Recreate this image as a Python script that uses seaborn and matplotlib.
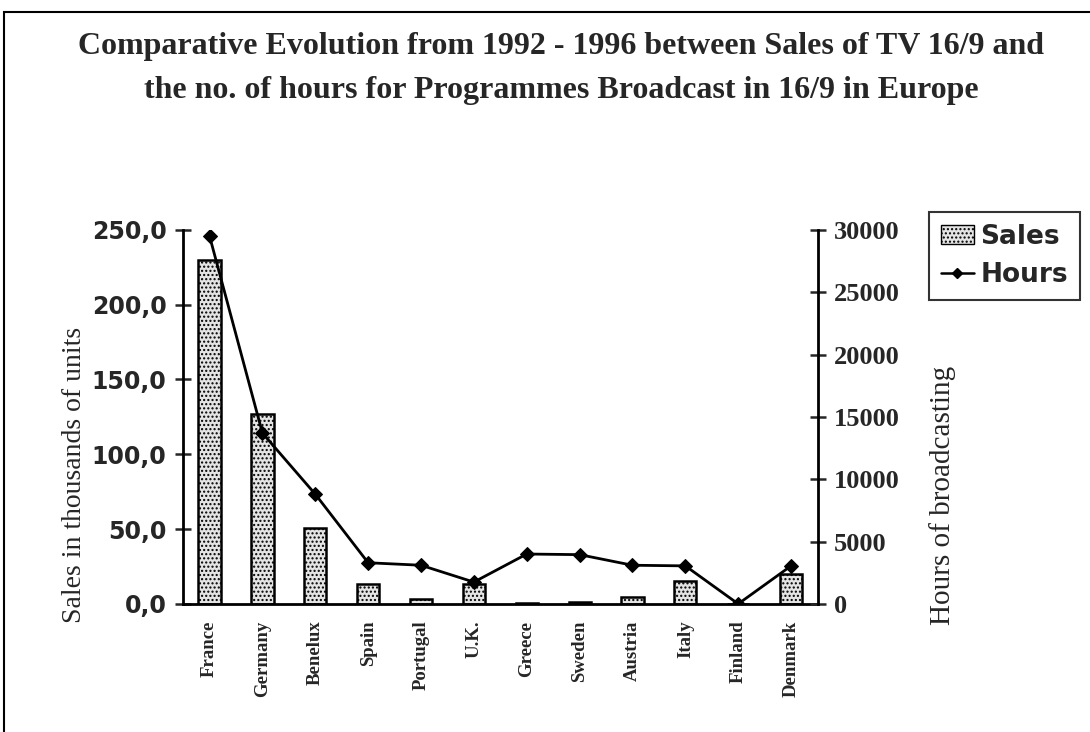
import numpy as np
import pandas as pd
import matplotlib
matplotlib.use("Agg")
import matplotlib.pyplot as plt
import seaborn as sns
from matplotlib.patches import Patch, Rectangle
from matplotlib.lines import Line2D

# Data: sales of 16/9 TV sets (thousands) and broadcast hours per country
countries = ["France", "Germany", "Benelux", "Spain", "Portugal", "U.K.",
             "Greece", "Sweden", "Austria", "Italy", "Finland", "Denmark"]
sales = [230.0, 127.0, 51.0, 13.0, 3.5, 13.0, 0.5, 1.0, 4.5, 15.0, 0.0, 20.0]
hours = [29500, 13700, 8800, 3300, 3100, 1750, 4000, 3950, 3100, 3050, 0, 3050]
sales_ticks = [0, 50, 100, 150, 200, 250]
hours_ticks = [0, 5000, 10000, 15000, 20000, 25000, 30000]

df = pd.DataFrame({"Country": countries, "Sales": sales, "Hours": hours})

sns.set_theme(style="white")
plt.rcParams["font.family"] = ["Liberation Serif", "DejaVu Serif"]

fig = plt.figure(figsize=(10.9, 7.32), dpi=100)
ax = fig.add_axes([0.168, 0.175, 0.582, 0.511])

sns.barplot(data=df, x="Country", y="Sales", ax=ax, width=0.42,
            color="#e4e4e4", edgecolor="black", linewidth=1.8, saturation=1)
for bar in ax.patches:
    bar.set_hatch("....")

ax.set_xlim(-0.5, len(countries) - 0.5)
ax.set_ylim(0, 250)
ax.set_yticks(sales_ticks)
ax.set_yticklabels([f"{v:.1f}".replace(".", ",") for v in sales_ticks],
                   fontfamily="DejaVu Sans", fontweight="bold", fontsize=17)
ax.set_xticks(range(len(countries)))
ax.set_xticklabels(countries, rotation=90, fontsize=13.5, fontweight="bold")
ax.set_xticks(np.arange(-0.5, len(countries)), minor=True)
ax.tick_params(axis="x", which="major", length=0, pad=12)
ax.tick_params(axis="x", which="minor", length=10, width=1.8, direction="inout")
ax.tick_params(axis="y", which="major", length=12, width=1.8, direction="inout", pad=6)
ax.set_xlabel("")
ax.set_ylabel("Sales in thousands of units", fontsize=20)
ax.yaxis.set_label_coords(-0.151, 0.345)

for s in ["top", "right"]:
    ax.spines[s].set_visible(False)
for s in ["left", "bottom"]:
    ax.spines[s].set_linewidth(2)
    ax.spines[s].set_color("black")

ax2 = ax.twinx()
sns.lineplot(x=np.arange(len(countries)), y=df["Hours"], ax=ax2, color="black",
             linewidth=2, marker="D", markersize=7, markeredgecolor="black")
ax2.set_ylim(0, 30000)
ax2.set_yticks(hours_ticks)
ax2.set_yticklabels([str(v) for v in hours_ticks], fontsize=19, fontweight="bold")
ax2.tick_params(axis="y", length=12, width=1.8, direction="inout", pad=6)
ax2.set_ylabel("Hours of broadcasting", fontsize=21)
ax2.yaxis.set_label_coords(1.176, 0.29)
ax2.set_xlim(-0.5, len(countries) - 0.5)
for s in ["top", "left", "bottom"]:
    ax2.spines[s].set_visible(False)
ax2.spines["right"].set_linewidth(2)
ax2.spines["right"].set_color("black")

fig.suptitle("Comparative Evolution from 1992 - 1996 between Sales of TV 16/9 and\n"
             "the no. of hours for Programmes Broadcast in 16/9 in Europe",
             x=0.515, y=1 - 32 / 732, va="top", fontsize=23, fontweight="bold",
             linespacing=1.7)

handles = [Patch(facecolor="#e4e4e4", edgecolor="black", hatch="....", linewidth=1),
           Line2D([0], [0], color="black", linewidth=1.8, marker="D", markersize=5)]
leg = fig.legend(handles, ["Sales", "Hours"], loc="upper left",
                 bbox_to_anchor=(929 / 1090, 1 - 212 / 732), frameon=True, fancybox=False,
                 prop={"family": "DejaVu Sans", "weight": "bold", "size": 19},
                 handlelength=1.25, handletextpad=0.25, borderpad=0.45,
                 labelspacing=0.45, borderaxespad=0)
leg.get_frame().set_edgecolor("black")
leg.get_frame().set_linewidth(1.5)

# page frame
fig.patches.append(Rectangle((0.004, -0.05), 1.1, 1.034, transform=fig.transFigure,
                             fill=False, edgecolor="black", linewidth=1.5))

fig.savefig("out.png", dpi=100)
